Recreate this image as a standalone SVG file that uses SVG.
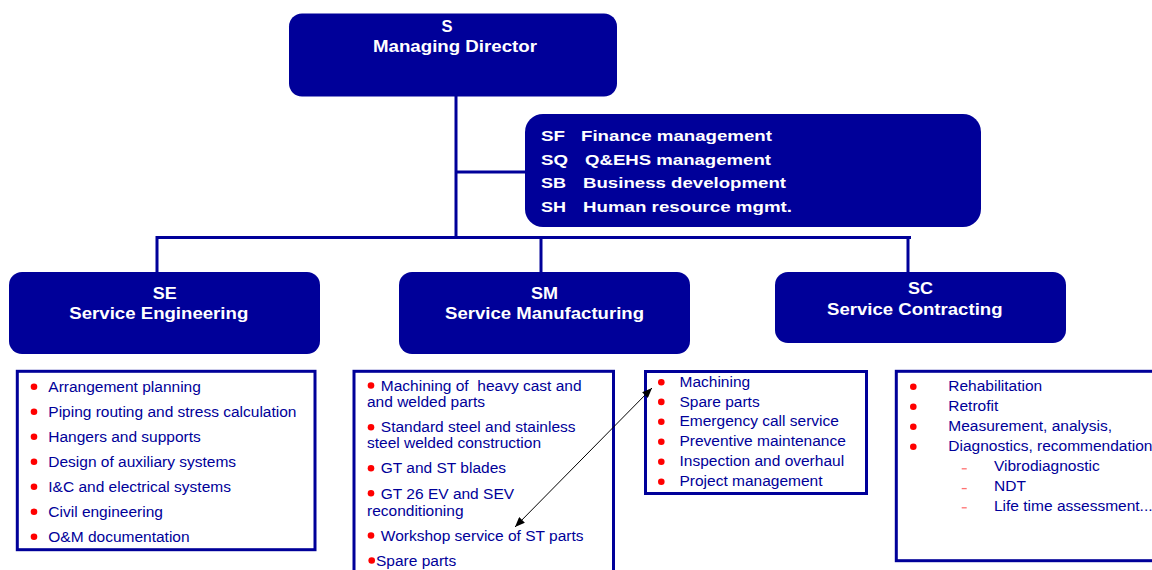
<svg xmlns="http://www.w3.org/2000/svg" width="1152" height="570" viewBox="0 0 1152 570">
<style>
.node{fill:#000099}
.t{font-family:"Liberation Sans",Arial,sans-serif;font-weight:bold;fill:#ffffff}
.tt{font-size:16.5px}
.ts{font-size:15px}
.list{fill:#ffffff;stroke:#000099;stroke-width:3}
.li{font-family:"Liberation Sans",Arial,sans-serif;font-size:15.5px;fill:#000099}
.b{fill:#ff0000}
.d{stroke:#ff7070;stroke-width:1.3}
.conn{fill:none;stroke:#000099;stroke-width:3}
</style>
<defs>
<marker id="ah" viewBox="0 0 10 8" refX="10" refY="4" markerWidth="11" markerHeight="8" orient="auto-start-reverse" markerUnits="userSpaceOnUse">
<path d="M0,0 L10,4 L0,8 z" fill="#000000"/>
</marker>
</defs>
<rect width="1152" height="570" fill="#ffffff"/>

<g id="node-S">
<rect class="node" x="289" y="13.5" width="328" height="83" rx="13"/>
<text class="t tt" x="447" y="32" text-anchor="middle">S</text>
<text class="t tt" x="373" y="52.3" textLength="164" lengthAdjust="spacingAndGlyphs">Managing Director</text>
</g>

<g id="node-staff">
<rect class="node" x="525" y="114" width="456" height="113" rx="18"/>
<text class="t ts" x="541" y="140.5" textLength="24" lengthAdjust="spacingAndGlyphs">SF</text>
<text class="t ts" x="581" y="140.5" textLength="191" lengthAdjust="spacingAndGlyphs">Finance management</text>
<text class="t ts" x="541" y="164.5" textLength="27" lengthAdjust="spacingAndGlyphs">SQ</text>
<text class="t ts" x="585" y="164.5" textLength="186" lengthAdjust="spacingAndGlyphs">Q&amp;EHS management</text>
<text class="t ts" x="541" y="187.8" textLength="25" lengthAdjust="spacingAndGlyphs">SB</text>
<text class="t ts" x="583" y="187.8" textLength="203" lengthAdjust="spacingAndGlyphs">Business development</text>
<text class="t ts" x="541" y="211.8" textLength="25" lengthAdjust="spacingAndGlyphs">SH</text>
<text class="t ts" x="583" y="211.8" textLength="209" lengthAdjust="spacingAndGlyphs">Human resource mgmt.</text>
</g>

<g id="node-SE">
<rect class="node" x="9" y="272" width="311" height="82" rx="13"/>
<text class="t tt" x="152.7" y="299.3" textLength="24" lengthAdjust="spacingAndGlyphs">SE</text>
<text class="t tt" x="69.3" y="319.3" textLength="179" lengthAdjust="spacingAndGlyphs">Service Engineering</text>
</g>

<g id="node-SM">
<rect class="node" x="399" y="272" width="291" height="82" rx="13"/>
<text class="t tt" x="531" y="299.3" textLength="27" lengthAdjust="spacingAndGlyphs">SM</text>
<text class="t tt" x="445" y="319.3" textLength="199" lengthAdjust="spacingAndGlyphs">Service Manufacturing</text>
</g>

<g id="node-SC">
<rect class="node" x="775" y="272" width="291" height="71" rx="13"/>
<text class="t tt" x="908" y="294" textLength="25" lengthAdjust="spacingAndGlyphs">SC</text>
<text class="t tt" x="827" y="315" textLength="175.5" lengthAdjust="spacingAndGlyphs">Service Contracting</text>
</g>

<g id="list-SE">
<rect class="list" x="17.3" y="371.3" width="297.7" height="178.4"/>
<circle class="b" cx="34" cy="386.7" r="3.3"/>
<circle class="b" cx="34" cy="411.7" r="3.3"/>
<circle class="b" cx="34" cy="436.7" r="3.3"/>
<circle class="b" cx="34" cy="461.7" r="3.3"/>
<circle class="b" cx="34" cy="486.7" r="3.3"/>
<circle class="b" cx="34" cy="511.7" r="3.3"/>
<circle class="b" cx="34" cy="536.7" r="3.3"/>
<text class="li" x="48.3" y="391.7">Arrangement planning</text>
<text class="li" x="48.3" y="416.7">Piping routing and stress calculation</text>
<text class="li" x="48.3" y="441.7">Hangers and supports</text>
<text class="li" x="48.3" y="466.7">Design of auxiliary systems</text>
<text class="li" x="48.3" y="491.7">I&amp;C and electrical systems</text>
<text class="li" x="48.3" y="516.7">Civil engineering</text>
<text class="li" x="48.3" y="541.7">O&amp;M documentation</text>
</g>

<g id="list-SM-workshop">
<rect class="list" x="354" y="371.3" width="259.5" height="210"/>
<circle class="b" cx="371" cy="385.5" r="3.3"/>
<text class="li" x="380.8" y="390.7" xml:space="preserve">Machining of  heavy cast and</text>
<text class="li" x="367" y="406.7">and welded parts</text>
<circle class="b" cx="371" cy="427.2" r="3.3"/>
<text class="li" x="380.8" y="432.3">Standard steel and stainless</text>
<text class="li" x="367" y="448.3">steel welded construction</text>
<circle class="b" cx="371" cy="468.2" r="3.3"/>
<text class="li" x="380.8" y="473.3">GT and ST blades</text>
<circle class="b" cx="371" cy="493.2" r="3.3"/>
<text class="li" x="380.8" y="498.5">GT 26 EV and SEV</text>
<text class="li" x="367" y="515.5">reconditioning</text>
<circle class="b" cx="371" cy="535.5" r="3.3"/>
<text class="li" x="380.8" y="540.7">Workshop service of ST parts</text>
<circle class="b" cx="371.7" cy="560.5" r="3.3"/>
<text class="li" x="376" y="565.7">Spare parts</text>
</g>

<g id="list-SM-service">
<rect class="list" x="645.5" y="371.5" width="221" height="122"/>
<circle class="b" cx="661.3" cy="382.3" r="3.3"/>
<circle class="b" cx="661.3" cy="401.9" r="3.3"/>
<circle class="b" cx="661.3" cy="421.7" r="3.3"/>
<circle class="b" cx="661.3" cy="441.7" r="3.3"/>
<circle class="b" cx="661.3" cy="461.7" r="3.3"/>
<circle class="b" cx="661.3" cy="481.7" r="3.3"/>
<text class="li" x="679.5" y="387">Machining</text>
<text class="li" x="679.5" y="406.6">Spare parts</text>
<text class="li" x="679.5" y="426.4">Emergency call service</text>
<text class="li" x="679.5" y="446.4">Preventive maintenance</text>
<text class="li" x="679.5" y="466.4">Inspection and overhaul</text>
<text class="li" x="679.5" y="486.2">Project management</text>
</g>

<g id="list-SC">
<rect class="list" x="896.3" y="371.3" width="280" height="189.4"/>
<circle class="b" cx="913.3" cy="386.7" r="3.3"/>
<circle class="b" cx="913.3" cy="406.7" r="3.3"/>
<circle class="b" cx="913.3" cy="426.7" r="3.3"/>
<circle class="b" cx="913.3" cy="446.7" r="3.3"/>
<text class="li" x="948.3" y="391.2">Rehabilitation</text>
<text class="li" x="948.3" y="411.2">Retrofit</text>
<text class="li" x="948.3" y="431.2">Measurement, analysis,</text>
<text class="li" x="948.3" y="451.2">Diagnostics, recommendation</text>
<line class="d" x1="961.7" y1="468.8" x2="966.7" y2="468.8"/>
<line class="d" x1="961.7" y1="488.6" x2="966.7" y2="488.6"/>
<line class="d" x1="961.7" y1="507.8" x2="966.7" y2="507.8"/>
<text class="li" x="994" y="471">Vibrodiagnostic</text>
<text class="li" x="994" y="490.8">NDT</text>
<text class="li" x="994" y="510.6">Life time assessment...</text>
</g>

<g id="connectors">
<path class="conn" d="M456,96 V238"/>
<path class="conn" d="M456,172 H526"/>
<path class="conn" d="M157,272 V237.5 H911"/>
<path class="conn" d="M541,237.5 V272"/>
<path class="conn" d="M908,237.5 V272"/>
<line x1="515" y1="527" x2="652" y2="388" stroke="#000000" stroke-width="1" marker-start="url(#ah)" marker-end="url(#ah)"/>
</g>
</svg>
